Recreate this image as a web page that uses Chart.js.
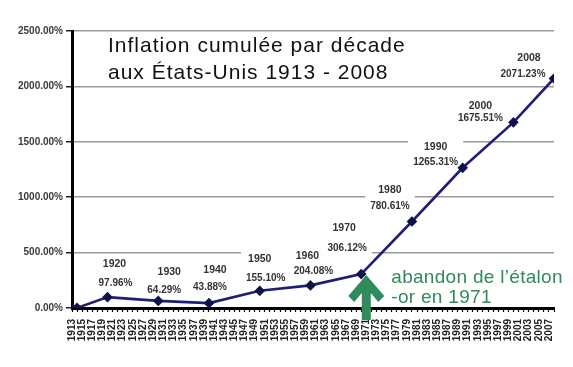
<!DOCTYPE html>
<html>
<head>
<meta charset="utf-8">
<script src="https://cdn.jsdelivr.net/npm/chart.js@4.4.0/dist/chart.umd.min.js"></script>
<style>
  html, body { margin: 0; padding: 0; background: #fff; }
  canvas { display: block; }
</style>
</head>
<body>
<canvas id="inflChart" width="573" height="367"></canvas>
<script>
// cumulative US inflation since 1913 (%)
const years = [1913, 1914, 1920, 1930, 1940, 1950, 1960, 1970, 1980, 1990, 2000, 2008];
const cumulative = [0, 1.02, 97.96, 64.29, 43.88, 155.10, 204.08, 306.12, 780.61, 1265.31, 1675.51, 2071.23];
const decadeNames = ['', '', '1920', '1930', '1940', '1950', '1960', '1970', '1980', '1990', '2000', '2008'];
const yTicks = [0, 500, 1000, 1500, 2000, 2500];
const titleLines = ['Inflation cumulée par décade', 'aux États-Unis 1913 - 2008'];
const noteLines = ['abandon de l\u2019étalon', '-or en 1971'];
const noteYear = 1971;

// x axis: one tick per year, labels on odd years
const axisYears = [];
for (let yr = 1913; yr <= 2008; yr++) axisYears.push(yr);

// label placement relative to its point: [dxYear, dyYear, dxPct, dyPct]
const labelOffsets = [null, null,
  [7, -33, 8, -14], [11, -29, 6, -11], [6, -33, 1, -16], [0, -32, 6, -13],
  [-3, -29, 3, -14], [-17, -46, -14, -26], [-22, -31, -22, -15],
  [-27, -21, -27, -6], [-33, -16, -33, -4], [-25, -20, -31, -4]];

const GREEN = '#2f8a5c';
const FONT = '"Liberation Sans", Arial, sans-serif';

const decorations = {
  id: 'decorations',
  beforeDatasetsDraw(chart) {
    const ctx = chart.ctx;
    const meta = chart.getDatasetMeta(0);
    ctx.save();
    ctx.textAlign = 'center';
    ctx.textBaseline = 'middle';
    meta.data.forEach((pt, i) => {
      const off = labelOffsets[i];
      if (!off) return;
      const yearTxt = decadeNames[i];
      const pctTxt = cumulative[i].toFixed(2) + '%';
      ctx.font = 'bold 10.5px ' + FONT;
      const w1 = ctx.measureText(yearTxt).width;
      ctx.font = 'bold 10px ' + FONT;
      const w2 = ctx.measureText(pctTxt).width;
      const left = Math.min(pt.x + off[0] - w1 / 2, pt.x + off[2] - w2 / 2) - 5;
      const right = Math.max(pt.x + off[0] + w1 / 2, pt.x + off[2] + w2 / 2) + 5;
      ctx.fillStyle = '#fff';
      ctx.fillRect(left, pt.y + off[1] - 9, right - left, off[3] - off[1] + 18);
      ctx.fillStyle = '#333';
      ctx.font = 'bold 10.5px ' + FONT;
      ctx.fillText(yearTxt, pt.x + off[0], pt.y + off[1]);
      ctx.font = 'bold 10px ' + FONT;
      ctx.fillText(pctTxt, pt.x + off[2], pt.y + off[3]);
    });
    ctx.restore();
  },
  afterDatasetsDraw(chart) {
    const ctx = chart.ctx;
    const x = chart.scales.x, y = chart.scales.y;
    ctx.save();
    // title
    ctx.fillStyle = '#111';
    ctx.font = '21px ' + FONT;
    ctx.letterSpacing = '1px';
    ctx.textAlign = 'left';
    ctx.textBaseline = 'alphabetic';
    ctx.fillText(titleLines[0], 108, 52);
    ctx.fillText(titleLines[1], 108, 79);

    // green arrow at the end of the gold standard
    const ax = x.getPixelForValue(noteYear);
    const tipY = y.getPixelForValue(cumulative[7]) + 1;
    ctx.fillStyle = GREEN;
    ctx.beginPath();
    ctx.moveTo(ax, tipY);
    ctx.lineTo(ax + 18, tipY + 21);
    ctx.lineTo(ax + 12, tipY + 27);
    ctx.lineTo(ax + 4.5, tipY + 18);
    ctx.lineTo(ax + 4.5, chart.chartArea.bottom + 12);
    ctx.lineTo(ax - 4.5, chart.chartArea.bottom + 12);
    ctx.lineTo(ax - 4.5, tipY + 18);
    ctx.lineTo(ax - 12, tipY + 27);
    ctx.lineTo(ax - 18, tipY + 21);
    ctx.closePath();
    ctx.fill();

    ctx.font = '19px ' + FONT;
    ctx.letterSpacing = '0.3px';
    ctx.fillText(noteLines[0], ax + 25, tipY + 8);
    ctx.fillText(noteLines[1], ax + 25, tipY + 28);
    ctx.restore();
  }
};

new Chart(document.getElementById('inflChart').getContext('2d'), {
  type: 'line',
  data: {
    datasets: [{
      data: years.map((yr, i) => ({ x: yr, y: cumulative[i] })),
      borderColor: '#1e1e78',
      borderWidth: 2.6,
      pointStyle: 'rectRot',
      pointRadius: 3.5,
      pointBackgroundColor: '#12124a',
      pointBorderColor: '#12124a',
      tension: 0,
      fill: false
    }]
  },
  options: {
    responsive: false,
    animation: false,
    layout: { padding: { top: 31, right: 17, left: 0, bottom: 0 } },
    plugins: { legend: { display: false }, tooltip: { enabled: false } },
    scales: {
      x: {
        type: 'linear',
        min: 1913,
        max: 2008,
        afterBuildTicks: s => { s.ticks = axisYears.map(v => ({ value: v })); },
        afterFit: s => { s.height = 59; },
        ticks: {
          autoSkip: false,
          minRotation: 90,
          maxRotation: 90,
          padding: 7,
          color: '#222',
          font: { family: FONT, size: 10, weight: 'bold' },
          callback: v => (v % 2 === 1 && v <= 2007) ? String(v) : ''
        },
        grid: { drawOnChartArea: false, tickLength: 4, tickColor: '#000', tickWidth: 1.2 },
        border: { color: '#000', width: 3 }
      },
      y: {
        min: 0,
        max: 2500,
        afterBuildTicks: s => { s.ticks = yTicks.map(v => ({ value: v })); },
        afterFit: s => { s.width = 72; },
        ticks: {
          padding: 3,
          color: '#3a3a3a',
          font: { family: FONT, size: 10, weight: 'bold' },
          callback: v => v.toFixed(2) + '%'
        },
        grid: { color: '#999', lineWidth: 1.5, tickLength: 6, tickColor: '#222' },
        border: { color: '#000', width: 3 }
      }
    }
  },
  plugins: [decorations]
});
</script>
</body>
</html>
